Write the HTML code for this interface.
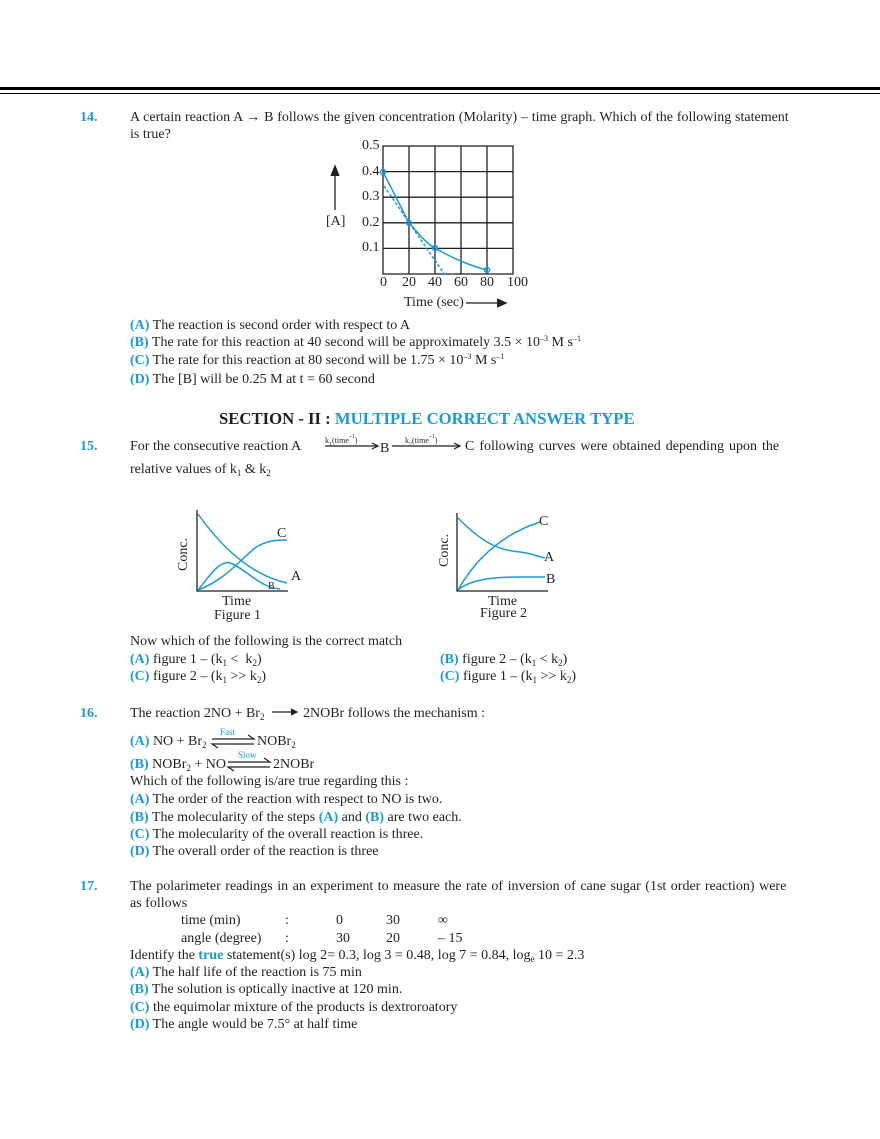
<!DOCTYPE html>
<html><head><meta charset="utf-8"><style>
body{margin:0;background:#fff;}
#p{position:relative;width:880px;height:1139px;overflow:hidden;font-family:"Liberation Serif",serif;font-size:14px;color:#231f20;}
.t{position:absolute;white-space:nowrap;line-height:16px;}
.b{color:#1b9ad6;font-weight:bold;}
.bl{color:#1b9ad6;}
sub{font-size:9px;vertical-align:-3px;line-height:0;}
sup{font-size:8px;vertical-align:5px;line-height:0;}
.n{color:#1b9ad6;font-weight:bold;}
</style></head><body><div id="p">
<div style="position:absolute;left:0;top:87px;width:880px;height:3px;background:#000"></div>
<div style="position:absolute;left:0;top:93px;width:880px;height:1px;background:#000"></div>

<div class="t n" style="left:80px;top:110px">14.</div>
<div class="t" style="left:130px;top:110px;word-spacing:0.3px">A certain reaction A → B follows the given concentration (Molarity) – time graph. Which of the following statement</div>
<div class="t" style="left:130px;top:127px">is true?</div>

<svg style="position:absolute;left:0;top:0" width="880" height="1139">
<g stroke="#231f20" stroke-width="1.3" fill="none">
<path d="M383 146H513V274H383Z M409 146V274 M435 146V274 M461 146V274 M487 146V274 M383 171.6H513 M383 197.2H513 M383 222.8H513 M383 248.4H513"/>
<path d="M335 210V170"/><path d="M331 176L335 166L339 176" fill="#231f20"/>
<path d="M466 303H500"/><path d="M497 299L506 303L497 307" fill="#231f20"/>
</g>
<g stroke="#1b9ad6" stroke-width="1.5" fill="none">
<path d="M383 172 C395 195 405 215 409 223 C420 235 428 245 435 248 C455 260 475 267 487 270"/>
<path d="M384 186 L445 275" stroke-dasharray="3,2"/>
<circle cx="383" cy="172" r="2.5"/><circle cx="409" cy="223" r="2.5"/><circle cx="435" cy="248" r="2.5"/><circle cx="487" cy="270" r="2.5"/>
</g>
<g stroke="#231f20" stroke-width="1.3" fill="none"><path d="M197 510V591H288"/><path d="M457 513V591H548"/></g>
<g stroke="#1b9ad6" stroke-width="1.5" fill="none">
<path d="M198 514 C220 545 250 575 287 583"/>
<path d="M198 590 C225 580 240 560 255 548 C265 541 275 540 287 540"/>
<path d="M198 590 C210 575 220 560 230 563 C245 568 260 588 280 589"/>
<path d="M458 518 C480 540 495 550 520 552 C530 553 540 557 545 558"/>
<path d="M458 590 C475 560 500 535 540 522"/>
<path d="M458 590 C470 580 490 577 520 577 L545 577"/>
</g>
<g stroke="#231f20" stroke-width="1.2" fill="none">
<path d="M325 446H377"/><path d="M372 443L378 446L372 449"/>
<path d="M392 446H459"/><path d="M454 443L460 446L454 449"/>
<path d="M272 712H296"/><path d="M291 709L297 712L291 715" fill="#231f20"/>
<path d="M212 739H254L248 735 M254 744H212L218 748"/>
<path d="M228 762H270L264 758 M270 767H228L234 771"/>
</g>
</svg>
<div class="t" style="left:362px;top:138px">0.5</div>
<div class="t" style="left:362px;top:164px">0.4</div>
<div class="t" style="left:362px;top:189px">0.3</div>
<div class="t" style="left:362px;top:215px">0.2</div>
<div class="t" style="left:362px;top:240px">0.1</div>
<div class="t" style="left:326px;top:214px">[A]</div>
<div class="t" style="left:380px;top:275px">0</div>
<div class="t" style="left:402px;top:275px">20</div>
<div class="t" style="left:428px;top:275px">40</div>
<div class="t" style="left:454px;top:275px">60</div>
<div class="t" style="left:480px;top:275px">80</div>
<div class="t" style="left:507px;top:275px">100</div>
<div class="t" style="left:404px;top:295px">Time (sec)</div>

<div class="t" style="left:130px;top:318px"><span class="b">(A)</span> The reaction is second order with respect to A</div>
<div class="t" style="left:130px;top:335px"><span class="b">(B)</span> The rate for this reaction at 40 second will be approximately 3.5 × 10<sup>–3</sup> M s<sup>–1</sup></div>
<div class="t" style="left:130px;top:353px"><span class="b">(C)</span> The rate for this reaction at 80 second will be 1.75 × 10<sup>–3</sup> M s<sup>–1</sup></div>
<div class="t" style="left:130px;top:372px"><span class="b">(D)</span> The [B] will be 0.25 M at t = 60 second</div>

<div class="t" style="left:219px;top:410px;font-size:16.7px;font-weight:bold;line-height:18px">SECTION - II : <span style="color:#1b9ad6">MULTIPLE CORRECT ANSWER TYPE</span></div>

<div class="t n" style="left:80px;top:439px">15.</div>
<div class="t" style="left:130px;top:439px">For the consecutive reaction A</div>
<div class="t" style="left:325px;top:436px;font-size:8px;line-height:9px">k<sub style="font-size:6px">1</sub>(time<sup style="font-size:6px">–1</sup>)</div>
<div class="t" style="left:380px;top:441px">B</div>
<div class="t" style="left:405px;top:436px;font-size:8px;line-height:9px">k<sub style="font-size:6px">2</sub>(time<sup style="font-size:6px">–1</sup>)</div>
<div class="t" style="left:465px;top:439px;word-spacing:1.5px">C following curves were obtained depending upon the</div>
<div class="t" style="left:130px;top:462px">relative values of k<sub>1</sub> &amp; k<sub>2</sub></div>

<div class="t" style="left:176px;transform:rotate(-90deg);transform-origin:left top;top:571px;font-size:14px">Conc.</div>
<div class="t" style="left:437px;top:567px;transform:rotate(-90deg);transform-origin:left top;font-size:14px">Conc.</div>
<div class="t" style="left:277px;top:526px">C</div>
<div class="t" style="left:291px;top:569px">A</div>
<div class="t" style="left:268px;top:579px;font-size:10px">B</div>
<div class="t" style="left:539px;top:514px">C</div>
<div class="t" style="left:544px;top:550px">A</div>
<div class="t" style="left:546px;top:572px">B</div>
<div class="t" style="left:222px;top:594px;font-size:14px">Time</div>
<div class="t" style="left:214px;top:608px;font-size:14px">Figure 1</div>
<div class="t" style="left:488px;top:594px;font-size:14px">Time</div>
<div class="t" style="left:480px;top:606px;font-size:14px">Figure 2</div>

<div class="t" style="left:130px;top:634px">Now which of the following is the correct match</div>
<div class="t" style="left:130px;top:652px"><span class="b">(A)</span> figure 1 – (k<sub>1</sub> &lt;&nbsp; k<sub>2</sub>)</div>
<div class="t" style="left:130px;top:669px"><span class="b">(C)</span> figure 2 – (k<sub>1</sub> &gt;&gt; k<sub>2</sub>)</div>
<div class="t" style="left:440px;top:652px"><span class="b">(B)</span> figure 2 – (k<sub>1</sub> &lt; k<sub>2</sub>)</div>
<div class="t" style="left:440px;top:669px"><span class="b">(C)</span> figure 1 – (k<sub>1</sub> &gt;&gt; k<sub>2</sub>)</div>

<div class="t n" style="left:80px;top:706px">16.</div>
<div class="t" style="left:130px;top:706px">The reaction 2NO + Br<sub>2</sub></div>
<div class="t" style="left:303px;top:706px">2NOBr follows the mechanism :</div>
<div class="t" style="left:130px;top:734px"><span class="b">(A)</span> NO + Br<sub>2</sub></div>
<div class="t bl" style="left:220px;top:727px;font-size:9px;line-height:10px">Fast</div>
<div class="t" style="left:257px;top:734px">NOBr<sub>2</sub></div>
<div class="t" style="left:130px;top:757px"><span class="b">(B)</span> NOBr<sub>2</sub> + NO</div>
<div class="t bl" style="left:238px;top:750px;font-size:9px;line-height:10px">Slow</div>
<div class="t" style="left:273px;top:757px">2NOBr</div>
<div class="t" style="left:130px;top:774px">Which of the following is/are true regarding this :</div>
<div class="t" style="left:130px;top:792px"><span class="b">(A)</span> The order of the reaction with respect to NO is two.</div>
<div class="t" style="left:130px;top:810px"><span class="b">(B)</span> The molecularity of the steps <span class="b">(A)</span> and <span class="b">(B)</span> are two each.</div>
<div class="t" style="left:130px;top:827px"><span class="b">(C)</span> The molecularity of the overall reaction is three.</div>
<div class="t" style="left:130px;top:844px"><span class="b">(D)</span> The overall order of the reaction is three</div>

<div class="t n" style="left:80px;top:879px">17.</div>
<div class="t" style="left:130px;top:879px;word-spacing:1px">The polarimeter readings in an experiment to measure the rate of inversion of cane sugar (1st order reaction) were</div>
<div class="t" style="left:130px;top:896px">as follows</div>
<div class="t" style="left:181px;top:913px">time (min)</div>
<div class="t" style="left:285px;top:913px">:</div>
<div class="t" style="left:336px;top:913px">0</div>
<div class="t" style="left:386px;top:913px">30</div>
<div class="t" style="left:438px;top:913px">∞</div>
<div class="t" style="left:181px;top:931px">angle (degree)</div>
<div class="t" style="left:285px;top:931px">:</div>
<div class="t" style="left:336px;top:931px">30</div>
<div class="t" style="left:386px;top:931px">20</div>
<div class="t" style="left:438px;top:931px">– 15</div>
<div class="t" style="left:130px;top:948px">Identify the <span class="b">true</span> statement(s) log 2= 0.3, log 3 = 0.48, log 7 = 0.84, log<sub>e</sub> 10 = 2.3</div>
<div class="t" style="left:130px;top:965px"><span class="b">(A)</span> The half life of the reaction is 75 min</div>
<div class="t" style="left:130px;top:982px"><span class="b">(B)</span> The solution is optically inactive at 120 min.</div>
<div class="t" style="left:130px;top:1000px"><span class="b">(C)</span> the equimolar mixture of the products is dextroroatory</div>
<div class="t" style="left:130px;top:1017px"><span class="b">(D)</span> The angle would be 7.5° at half time</div>
</div></body></html>
